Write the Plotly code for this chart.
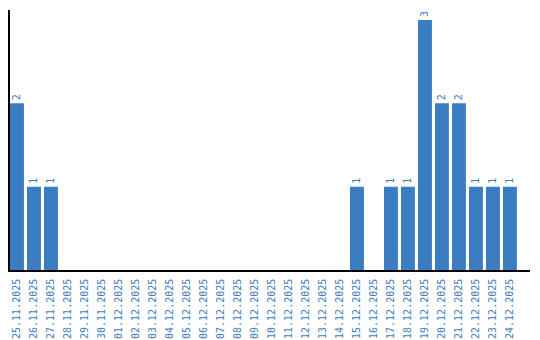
import plotly.graph_objects as go

dates = ["25.11.2025", "26.11.2025", "27.11.2025", "28.11.2025", "29.11.2025", "30.11.2025",
         "01.12.2025", "02.12.2025", "03.12.2025", "04.12.2025", "05.12.2025", "06.12.2025",
         "07.12.2025", "08.12.2025", "09.12.2025", "10.12.2025", "11.12.2025", "12.12.2025",
         "13.12.2025", "14.12.2025", "15.12.2025", "16.12.2025", "17.12.2025", "18.12.2025",
         "19.12.2025", "20.12.2025", "21.12.2025", "22.12.2025", "23.12.2025", "24.12.2025"]
counts = [2, 1, 1, 0, 0, 0, 0, 0, 0, 0, 0, 0, 0, 0, 0, 0, 0, 0, 0, 0,
          1, 0, 1, 1, 3, 2, 2, 1, 1, 1]

BLUE = "#3b7dc3"
FONT = "DejaVu Sans Mono"
labels = [str(v) if v else "" for v in counts]

fig = go.Figure(go.Bar(
    x=dates, y=counts, text=labels, textposition="outside", textangle=-90,
    textfont=dict(color=BLUE, size=10, family=FONT),
    marker=dict(color=BLUE, line=dict(width=0)), cliponaxis=False,
))
fig.update_layout(
    width=540, height=340, margin=dict(l=10, r=10, t=10, b=70, autoexpand=False),
    paper_bgcolor="white", plot_bgcolor="white", bargap=0.18, showlegend=False,
    font=dict(family=FONT, size=10, color=BLUE),
)
fig.update_xaxes(type="category", range=[-0.41, 30.18], tickangle=-90, showgrid=False,
                 showline=True, linecolor="black", linewidth=1.5, automargin=False,
                 ticks="outside", ticklen=3, tickcolor="rgba(0,0,0,0)",
                 tickfont=dict(color=BLUE, size=10, family=FONT))
fig.update_yaxes(range=[0, 3.12], showgrid=False, zeroline=False, showline=True,
                 linecolor="black", linewidth=1.5, showticklabels=False, ticks="",
                 automargin=False)
fig.write_html("out.html")
